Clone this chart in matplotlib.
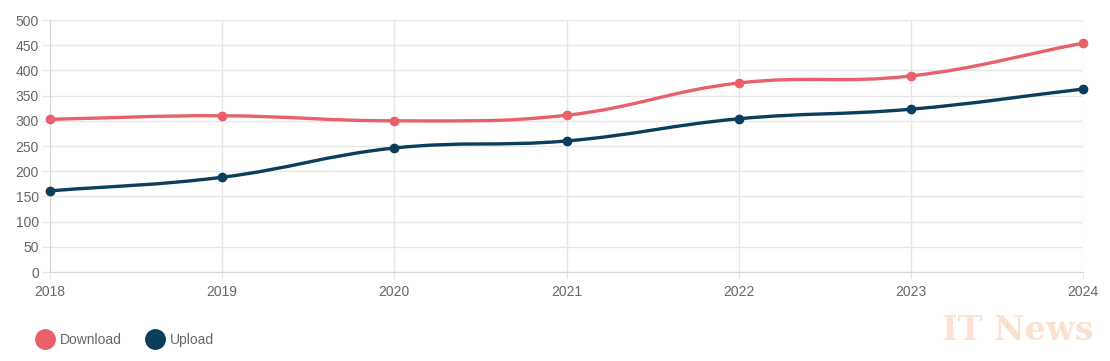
import matplotlib.pyplot as plt
import numpy as np
from matplotlib.path import Path
from matplotlib.patches import PathPatch
from matplotlib.lines import Line2D

plt.rcParams['font.family'] = ['Liberation Sans', 'DejaVu Sans']

years = [2018, 2019, 2020, 2021, 2022, 2023, 2024]
download = [303, 310, 300, 311, 375, 389, 454]
upload = [161, 188, 246, 260, 304, 323, 363]

c_down = "#E8606A"
c_up = "#0B3D5C"

fig = plt.figure(figsize=(11.1, 3.61), dpi=100)
ax = fig.add_axes([50 / 1110, 1 - 272 / 361, 1033 / 1110, 252 / 361])

# scale factors (px per unit) so the spline tension behaves like in the browser chart
sx = 1033 / 6
sy = 252 / 500


def spline_path(xs, ys, tension=0.4):
    xs = np.asarray(xs, float)
    ys = np.asarray(ys, float)
    px, py = xs * sx, ys * sy
    n = len(xs)
    prev_c, next_c = [], []
    for i in range(n):
        p0 = max(i - 1, 0)
        p2 = min(i + 1, n - 1)
        d01 = np.hypot(px[i] - px[p0], py[i] - py[p0])
        d12 = np.hypot(px[p2] - px[i], py[p2] - py[i])
        tot = d01 + d12 if d01 + d12 else 1
        fa = tension * d01 / tot
        fb = tension * d12 / tot
        dx, dy = px[p2] - px[p0], py[p2] - py[p0]
        prev_c.append(((px[i] - fa * dx) / sx, (py[i] - fa * dy) / sy))
        next_c.append(((px[i] + fb * dx) / sx, (py[i] + fb * dy) / sy))
    verts = [(xs[0], ys[0])]
    codes = [Path.MOVETO]
    for i in range(1, n):
        verts += [next_c[i - 1], prev_c[i], (xs[i], ys[i])]
        codes += [Path.CURVE4] * 3
    return Path(verts, codes)


for vals, col in [(download, c_down), (upload, c_up)]:
    ax.add_patch(PathPatch(spline_path(years, vals), fill=False, edgecolor=col,
                           lw=2.4, capstyle="round", joinstyle="round", zorder=3))
    ax.plot(years, vals, "o", color=col, ms=6, zorder=4, clip_on=False)

ax.set_xlim(2018, 2024)
ax.set_ylim(0, 500)
ax.set_xticks(years)
ax.set_yticks(range(0, 501, 50))
ax.grid(color="#e6e6e6", lw=1)
ax.set_axisbelow(True)
for s in ["top", "right"]:
    ax.spines[s].set_visible(False)
for s in ["left", "bottom"]:
    ax.spines[s].set_color("#d6d6d6")
ax.tick_params(colors="#666666", labelsize=10, length=6, color="#e6e6e6", pad=2)
ax.tick_params(axis="x", length=5, pad=4)

handles = [Line2D([], [], marker="o", ls="none", color=c_down, ms=14, label="Download"),
           Line2D([], [], marker="o", ls="none", color=c_up, ms=14, label="Upload")]
fig.legend(handles=handles, loc="center left", bbox_to_anchor=(24 / 1110, 1 - 340 / 361),
           ncol=2, frameon=False, handletextpad=0.45, columnspacing=1.85,
           prop={"size": 10}, labelcolor="#666666", handlelength=1.2)

fig.text(0.985, 1 - 330 / 361, "IT News", ha="right", va="center", fontsize=24,
         family="DejaVu Serif", weight="bold", color="#F6B48C", alpha=0.4)

fig.savefig("out.png", dpi=100)
